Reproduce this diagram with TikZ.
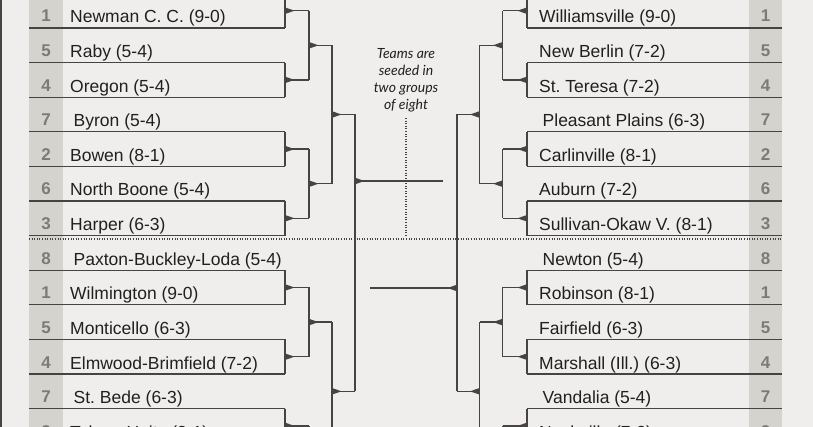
\documentclass[tikz,border=0pt]{standalone}
\usepackage{fontspec}
\setmainfont{Liberation Sans}
\newfontfamily\notefont{Lato}
\definecolor{bgc}{HTML}{EFEEEC}
\definecolor{stripc}{HTML}{D5D3CE}
\definecolor{linec}{HTML}{474343}
\definecolor{textc}{HTML}{231F20}
\definecolor{seedc}{HTML}{7F7A74}
\frenchspacing
\begin{document}
\begin{tikzpicture}[x=1pt,y=-1pt,
  line/.style={draw=linec, line width=1.25pt},
  dotline/.style={draw=linec, line width=1.1pt, dash pattern=on 1pt off 1.6pt},
  team/.style={anchor=base west, inner sep=0pt, font=\fontsize{17.5}{17.5}\selectfont, text=textc},
  seed/.style={anchor=base, inner sep=0pt, font=\fontsize{17}{17}\selectfont\bfseries, text=seedc},
  note/.style={anchor=base, inner sep=0pt, font=\notefont\fontsize{14}{14}\selectfont\itshape, text=textc},
  tipr/.pic={\fill[linec] (0,-3.3) -- (9.5,0) -- (0,3.3) -- cycle;},
  tipl/.pic={\fill[linec] (0,-3.3) -- (-9.5,0) -- (0,3.3) -- cycle;}]
\useasboundingbox (0,0) rectangle (813,427);
\clip (0,0) rectangle (813,427);
\fill[bgc] (0,0) rectangle (813,427);
\fill[stripc] (29,0) rectangle (63,427);
\fill[stripc] (749,0) rectangle (782,427);
\fill[linec] (0,0) rectangle (1.5,427);
% row lines
\foreach \k in {0,...,15}{
  \pgfmathsetmacro\yb{-6.6+34.6*\k}
  \coordinate (La\k) at (29,\yb);
  \coordinate (Lb\k) at (285,\yb);
  \coordinate (Ra\k) at (782,\yb);
  \coordinate (Rb\k) at (527,\yb);
  \draw[line] (La\k) -- (Lb\k);
  \draw[line] (Ra\k) -- (Rb\k);
}
% round 1
\foreach \j in {0,...,7}{
  \pgfmathtruncatemacro\a{2*\j}
  \pgfmathtruncatemacro\b{2*\j+1}
  \pgfmathsetmacro\m{10.7+69.2*\j}
  \coordinate (L1m\j) at (285,\m);
  \coordinate (L2in\j) at (309,\m);
  \coordinate (R1m\j) at (527,\m);
  \coordinate (R2in\j) at (502.5,\m);
  \draw[line] (Lb\a) -- (Lb\b);
  \draw[line] (Rb\a) -- (Rb\b);
  \draw[line] (L1m\j) -- (L2in\j);
  \draw[line] (R1m\j) -- (R2in\j);
  \pic at (L1m\j) {tipr};
  \pic at (R1m\j) {tipl};
}
% round 2
\foreach \i in {0,...,3}{
  \pgfmathtruncatemacro\a{2*\i}
  \pgfmathtruncatemacro\b{2*\i+1}
  \pgfmathsetmacro\m{45.3+138.4*\i}
  \coordinate (L2m\i) at (309,\m);
  \coordinate (L3in\i) at (332,\m);
  \coordinate (R2m\i) at (502.5,\m);
  \coordinate (R3in\i) at (479.5,\m);
  \draw[line] (L2in\a) -- (L2in\b);
  \draw[line] (R2in\a) -- (R2in\b);
  \draw[line] (L2m\i) -- (L3in\i);
  \draw[line] (R2m\i) -- (R3in\i);
  \pic at (L2m\i) {tipr};
  \pic at (R2m\i) {tipl};
}
% round 3
\foreach \h in {0,1}{
  \pgfmathtruncatemacro\a{2*\h}
  \pgfmathtruncatemacro\b{2*\h+1}
  \pgfmathsetmacro\m{114.5+276.8*\h}
  \coordinate (L3m\h) at (332,\m);
  \coordinate (L4in\h) at (355,\m);
  \coordinate (R3m\h) at (479.5,\m);
  \coordinate (R4in\h) at (457,\m);
  \draw[line] (L3in\a) -- (L3in\b);
  \draw[line] (R3in\a) -- (R3in\b);
  \draw[line] (L3m\h) -- (L4in\h);
  \draw[line] (R3m\h) -- (R4in\h);
  \pic at (L3m\h) {tipr};
  \pic at (R3m\h) {tipl};
}
% semifinals
\coordinate (Lfin) at (355,181);
\coordinate (Lend) at (443,181);
\coordinate (Rfin) at (457,288);
\coordinate (Rend) at (370,288);
\draw[line] (L4in0) -- (L4in1);
\draw[line] (R4in0) -- (R4in1);
\draw[line] (Lfin) -- (Lend);
\draw[line] (Rfin) -- (Rend);
\pic at (Lfin) {tipr};
\pic at (Rfin) {tipl};
% dotted separators
\coordinate (dl) at (29,239);
\coordinate (dr) at (782,239);
\coordinate (dt) at (406,118);
\coordinate (db) at (406,237);
\draw[dotline] (dl) -- (dr);
\draw[dotline] (dt) -- (db);
% note
\node[note] (note1) at (406,59) {Teams are};
\node[note] (note2) at (406,76) {seeded in};
\node[note] (note3) at (406,93) {two groups};
\node[note] (note4) at (406,110) {of eight};
% left teams
\foreach \k/\s/\n/\d in {1/1/Newman C. C. (9-0)/0, 2/5/Raby (5-4)/0, 3/4/Oregon (5-4)/0, 4/7/Byron (5-4)/3.5, 5/2/Bowen (8-1)/0, 6/6/North Boone (5-4)/0, 7/3/Harper (6-3)/0, 8/8/Paxton-Buckley-Loda (5-4)/3.5, 9/1/Wilmington (9-0)/0, 10/5/Monticello (6-3)/0, 11/4/Elmwood-Brimfield (7-2)/0, 12/7/St. Bede (6-3)/3.5, 13/2/Tolono Unity (8-1)/0}{
  \pgfmathsetmacro\yt{-6.6+34.6*\k-5}
  \pgfmathsetmacro\ys{-6.6+34.6*\k-6}
  \node[team] (Lt\k) at (70+\d,\yt) {\n};
  \node[seed] (Ls\k) at (46,\ys) {\s};
}
% right teams
\foreach \k/\s/\n/\d in {1/1/Williamsville (9-0)/0, 2/5/New Berlin (7-2)/0, 3/4/St. Teresa (7-2)/0, 4/7/Pleasant Plains (6-3)/3.5, 5/2/Carlinville (8-1)/0, 6/6/Auburn (7-2)/0, 7/3/Sullivan-Okaw V. (8-1)/0, 8/8/Newton (5-4)/3.5, 9/1/Robinson (8-1)/0, 10/5/Fairfield (6-3)/0, 11/4/Marshall (Ill.) (6-3)/0, 12/7/Vandalia (5-4)/3.5, 13/2/Nashville (7-2)/0}{
  \pgfmathsetmacro\yt{-6.6+34.6*\k-5}
  \pgfmathsetmacro\ys{-6.6+34.6*\k-6}
  \node[team] (Rt\k) at (539+\d,\yt) {\n};
  \node[seed] (Rs\k) at (765.5,\ys) {\s};
}
\end{tikzpicture}
\end{document}
